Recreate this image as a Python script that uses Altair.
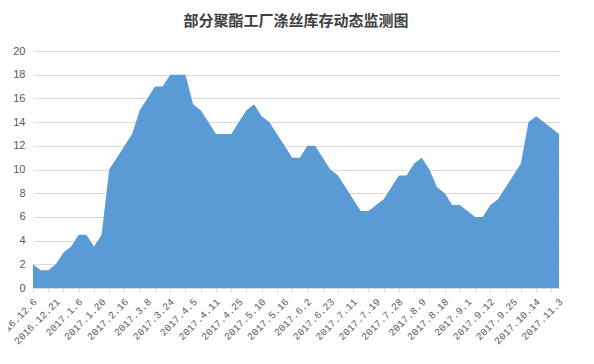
import json
import altair as alt
import pandas as pd

TITLE = "部分聚酯工厂涤丝库存动态监测图"

# Inventory values, one per observation (70 observations)
values = [
    2, 1.5, 1.5, 2, 3, 3.5, 4.5, 4.5, 3.5, 4.5,
    10, 11, 12, 13, 15, 16, 17, 17, 18, 18,
    18, 15.5, 15, 14, 13, 13, 13, 14, 15, 15.5,
    14.5, 14, 13, 12, 11, 11, 12, 12, 11, 10,
    9.5, 8.5, 7.5, 6.5, 6.5, 7, 7.5, 8.5, 9.5, 9.5,
    10.5, 11, 10, 8.5, 8, 7, 7, 6.5, 6, 6,
    7, 7.5, 8.5, 9.5, 10.5, 14, 14.5, 14, 13.5, 13,
]

# Tick labels shown on every third observation
labels = [
    "2016.12.6", "2016.12.21", "2017.1.6", "2017.1.20", "2017.2.16", "2017.3.8",
    "2017.3.24", "2017.4.5", "2017.4.11", "2017.4.25", "2017.5.10", "2017.5.16",
    "2017.6.2", "2017.6.23", "2017.7.11", "2017.7.19", "2017.7.28", "2017.8.9",
    "2017.8.18", "2017.9.1", "2017.9.12", "2017.9.25", "2017.10.14", "2017.11.3",
]

y_ticks = [0, 2, 4, 6, 8, 10, 12, 14, 16, 18, 20]

df = pd.DataFrame({"idx": list(range(len(values))), "value": values})

label_expr = (
    "datum.value % 3 === 0 ? " + json.dumps(labels) + "[datum.value / 3] : ''"
)

x_axis = alt.Axis(
    values=list(range(len(values))),
    labelExpr=label_expr,
    labelAngle=-45,
    labelAlign="right",
    labelBaseline="middle",
    labelOverlap=False,
    labelFlush=False,
    labelBound=False,
    labelFont="Liberation Mono",
    labelFontSize=10,
    labelColor="#595959",
    labelPadding=8,
    labelOffset=2,
    domainColor="#d9d9d9",
    tickColor="#d9d9d9",
    tickSize=4,
    tickOpacity={"condition": {"test": "datum.value % 2 === 0", "value": 1}, "value": 0},
    grid=False,
    title=None,
)

y_axis = alt.Axis(
    values=y_ticks,
    domain=False,
    ticks=False,
    gridColor="#d9d9d9",
    labelFont="Liberation Sans",
    labelFontSize=11,
    labelColor="#595959",
    labelPadding=8,
    title=None,
)

chart = (
    alt.Chart(df)
    .mark_area(color="#5b9bd5", opacity=1, interpolate="linear")
    .encode(
        x=alt.X("idx:Q", axis=x_axis,
                scale=alt.Scale(domain=[0, len(values) - 1], nice=False, zero=False)),
        y=alt.Y("value:Q", axis=y_axis,
                scale=alt.Scale(domain=[0, 20], nice=False)),
    )
    .properties(
        width=526,
        height=237,
        autosize="none",
        padding={"left": 25, "top": 43, "right": 27, "bottom": 68},
        title=alt.TitleParams(
            TITLE,
            font="Noto Sans CJK SC",
            fontSize=15,
            fontWeight="bold",
            color="#404040",
            anchor="middle",
            offset=16,
        ),
    )
    .configure_view(stroke=None)
)

chart.save("out.html", embed_options={"renderer": "svg", "actions": False})
